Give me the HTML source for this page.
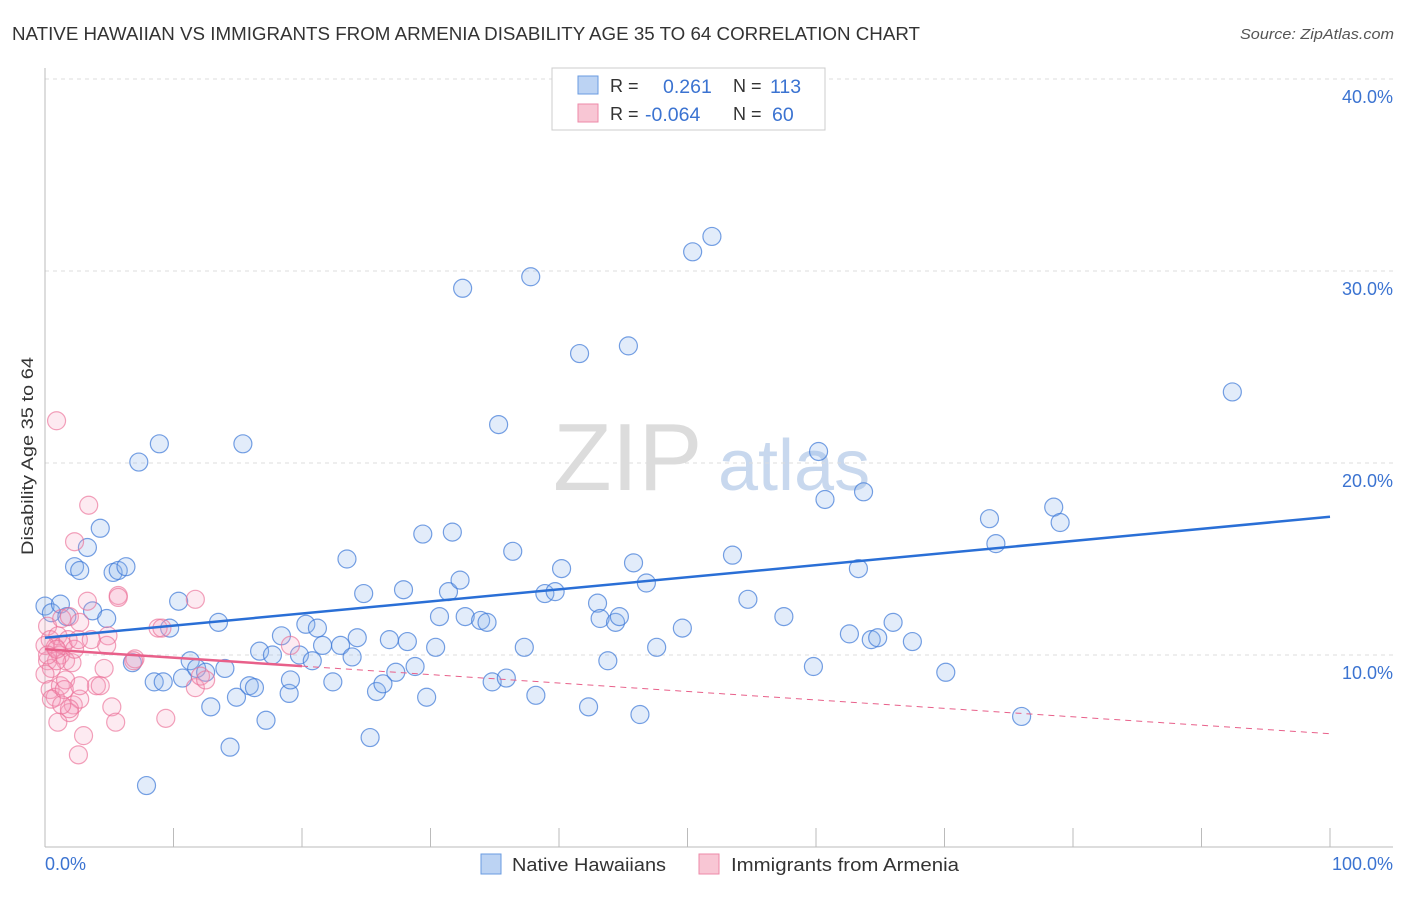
<!DOCTYPE html>
<html><head><meta charset="utf-8">
<style>
body{margin:0;background:#fff;font-family:"Liberation Sans",sans-serif;}
svg text{font-family:"Liberation Sans",sans-serif;}
</style></head>
<body>
<svg id="chart" width="1406" height="892" xmlns="http://www.w3.org/2000/svg">
<text x="12" y="40" font-size="18" fill="#333" textLength="908" lengthAdjust="spacingAndGlyphs">NATIVE HAWAIIAN VS IMMIGRANTS FROM ARMENIA DISABILITY AGE 35 TO 64 CORRELATION CHART</text>
<text x="1240" y="39" font-size="14.5" fill="#555" font-style="italic" textLength="154" lengthAdjust="spacingAndGlyphs">Source: ZipAtlas.com</text>
<g>
<text x="553" y="490" font-size="96" fill="#dcdcdc" font-family="Liberation Serif, serif">ZIP</text>
<text x="718" y="490" font-size="72" fill="#c8d8ee">atlas</text>
</g>
<g id="grid"></g>
<g id="axes"></g>
<g id="pts"></g>
<g id="trend"></g>
<text transform="translate(33,456) rotate(-90)" font-size="17" fill="#333" text-anchor="middle" textLength="198" lengthAdjust="spacingAndGlyphs">Disability Age 35 to 64</text>
<text x="45" y="870" font-size="18" fill="#3b73d1">0.0%</text>
<text x="1393" y="870" font-size="18" fill="#3b73d1" text-anchor="end">100.0%</text>
<g>
<rect x="552" y="68" width="273" height="62" fill="#fff" stroke="#ccc"/>
<rect x="578" y="76" width="20" height="18" fill="#bcd3f3" stroke="#6a9be0"/>
<rect x="578" y="104" width="20" height="18" fill="#f8c6d4" stroke="#ee8aa8"/>
<text x="610" y="92" font-size="18" fill="#333">R = </text><text x="663" y="93" font-size="19.5" fill="#3b73d1">0.261</text>
<text x="733" y="92" font-size="18" fill="#333">N = </text><text x="770" y="93" font-size="19.5" fill="#3b73d1">113</text>
<text x="610" y="120" font-size="18" fill="#333">R = </text><text x="645" y="121" font-size="19.5" fill="#3b73d1">-0.064</text>
<text x="733" y="120" font-size="18" fill="#333">N = </text><text x="772" y="121" font-size="19.5" fill="#3b73d1">60</text>
</g>
<g>
<rect x="481" y="854" width="20" height="20" fill="#bcd3f3" stroke="#6a9be0"/>
<text x="512" y="871" font-size="18" fill="#333" textLength="154" lengthAdjust="spacingAndGlyphs">Native Hawaiians</text>
<rect x="699" y="854" width="20" height="20" fill="#f8c6d4" stroke="#ee8aa8"/>
<text x="731" y="871" font-size="18" fill="#333" textLength="228" lengthAdjust="spacingAndGlyphs">Immigrants from Armenia</text>
</g>
</svg>
<script>
const yTicks=[10,20,30,40];
const yTickLabels=["10.0%","20.0%","30.0%","40.0%"];
const xTicks=[10,20,30,40,50,60,70,80,90,100];
const blueX=[0.0,0.5,1.2,1.7,2.3,2.7,3.3,3.7,4.3,4.8,5.3,5.7,6.3,6.8,7.3,7.9,8.5,8.9,9.2,9.7,10.4,10.7,11.3,11.8,12.5,12.9,13.5,14.0,14.4,14.9,15.4,15.9,16.3,16.7,17.2,17.7,18.4,19.0,19.1,19.8,20.3,20.8,21.2,21.6,22.4,23.0,23.5,23.9,24.3,24.8,25.3,25.8,26.3,26.8,27.3,27.9,28.2,28.8,29.4,29.7,30.4,30.7,31.4,31.7,32.3,32.5,32.7,33.9,34.4,34.8,35.3,35.9,36.4,37.3,37.8,38.2,38.9,39.7,40.2,41.6,42.3,43.0,43.2,43.8,44.4,44.7,45.4,45.8,46.3,46.8,47.6,49.6,50.4,51.9,53.5,54.7,57.5,59.8,60.2,60.7,62.6,63.3,63.7,64.3,64.8,66.0,67.5,70.1,73.5,74.0,76.0,78.5,79.0,92.4];
const blueY=[12.55,12.2,12.65,12.0,14.6,14.4,15.6,12.3,16.6,11.9,14.3,14.4,14.6,9.6,20.05,3.2,8.6,21.0,8.6,11.4,12.8,8.8,9.7,9.3,9.1,7.3,11.7,9.3,5.2,7.8,21.0,8.4,8.3,10.2,6.6,10.0,11.0,8.0,8.7,10.0,11.6,9.7,11.4,10.5,8.6,10.5,15.0,9.9,10.9,13.2,5.7,8.1,8.5,10.8,9.1,13.4,10.7,9.4,16.3,7.8,10.4,12.0,13.3,16.4,13.9,29.1,12.0,11.8,11.7,8.6,22.0,8.8,15.4,10.4,29.7,7.9,13.2,13.3,14.5,25.7,7.3,12.7,11.9,9.7,11.7,12.0,26.1,14.8,6.9,13.75,10.4,11.4,31.0,31.8,15.2,12.9,12.0,9.4,20.6,18.1,11.1,14.5,18.5,10.8,10.9,11.7,10.7,9.1,17.1,15.8,6.8,17.7,16.9,23.7];
const pinkX=[0.9,3.4,2.3,5.7,3.3,0.2,1.3,1.9,2.7,0.4,0.8,1.2,1.6,2.1,0.2,0.5,1.0,1.4,1.8,2.3,0.0,0.4,0.8,1.2,1.6,2.2,2.7,3.0,2.6,1.0,1.9,4.0,4.3,4.9,4.6,5.2,5.5,7.0,8.8,9.1,11.7,11.7,12.1,12.5,9.4,4.8,6.9,2.6,0.5,0.9,1.5,1.9,0.0,0.2,19.1,5.7,2.7,1.3,0.9,3.6];
const pinkY=[22.2,17.8,15.9,13.1,12.8,11.5,11.9,12.0,11.7,10.8,10.4,10.0,9.7,9.6,9.7,9.3,11.0,10.5,10.8,10.3,9.0,8.2,7.8,8.4,8.7,7.4,7.7,5.8,4.8,6.5,7.0,8.4,8.4,11.0,9.3,7.3,6.5,9.8,11.4,11.4,12.9,8.3,8.9,8.7,6.7,10.5,9.7,10.8,7.7,9.7,8.2,7.2,10.5,10.0,10.5,13.0,8.4,7.4,10.3,10.8];
const blueTrend=[10.9,17.2];
const pinkTrend=[10.3,5.9];
const pinkSolidEnd=20;

const NS="http://www.w3.org/2000/svg";
const X0=45,X1=1330,Y0=847,PX=19.2;
const xs=v=>X0+(X1-X0)*v/100;
const ys=v=>Y0-v*PX;
function mk(tag,attrs,parent){const e=document.createElementNS(NS,tag);for(const k in attrs)e.setAttribute(k,attrs[k]);parent.appendChild(e);return e;}
const grid=document.getElementById('grid'),axes=document.getElementById('axes'),pts=document.getElementById('pts'),trend=document.getElementById('trend');
yTicks.forEach((t,i)=>{
 const l=mk('line',{x1:45,x2:1393,y1:ys(t),y2:ys(t),stroke:'#ddd','stroke-dasharray':'4,4'},grid);
 
 
 const tx=mk('text',{x:1393,y:ys(t)+24,'font-size':18,fill:'#3b73d1','text-anchor':'end'},grid);
 tx.textContent=yTickLabels[i];
 
 
});
const ya=mk('line',{x1:45,x2:45,y1:68,y2:847,stroke:'#bbb'},axes);


const xa=mk('line',{x1:45,x2:1393,y1:847,y2:847,stroke:'#bbb'},axes);


xTicks.forEach(t=>{
 const l=mk('line',{x1:xs(t),x2:xs(t),y1:828,y2:847,stroke:'#bbb'},axes);
 
 
});
blueX.forEach((v,i)=>{
 const c=mk('circle',{cx:xs(v),cy:ys(blueY[i]),r:9,fill:'rgba(140,180,235,0.25)',stroke:'rgba(60,120,215,0.7)','stroke-width':1.2},pts);
 
 
});
pinkX.forEach((v,i)=>{
 const c=mk('circle',{cx:xs(v),cy:ys(pinkY[i]),r:9,fill:'rgba(245,160,190,0.22)',stroke:'rgba(235,110,150,0.65)','stroke-width':1.2},pts);
 
 
});
const bt=mk('line',{x1:xs(0),y1:ys(blueTrend[0]),x2:xs(100),y2:ys(blueTrend[1]),stroke:'#2a6fd6','stroke-width':2.5},trend);


const pm=pinkTrend[0]+(pinkTrend[1]-pinkTrend[0])*pinkSolidEnd/100;
const pt=mk('line',{x1:xs(0),y1:ys(pinkTrend[0]),x2:xs(pinkSolidEnd),y2:ys(pm),stroke:'#e8608a','stroke-width':2.5},trend);


const pd=mk('line',{x1:xs(pinkSolidEnd),y1:ys(pm),x2:xs(100),y2:ys(pinkTrend[1]),stroke:'#e8608a','stroke-width':1,'stroke-dasharray':'6,5'},trend);


</script>
</body></html>
